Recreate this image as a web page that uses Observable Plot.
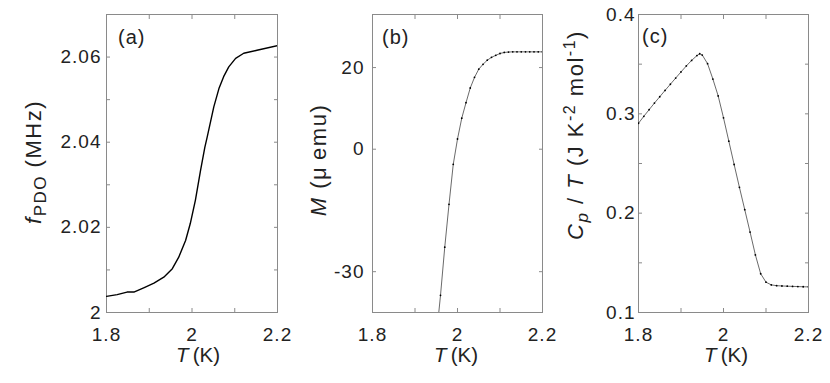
<!DOCTYPE html>
<html><head><meta charset="utf-8">
<script src="https://cdn.jsdelivr.net/npm/d3@7"></script>
<script src="https://cdn.jsdelivr.net/npm/@observablehq/plot@0.6"></script>
<style>
body{margin:0;background:#fff;}
#wrap{position:relative;width:830px;height:383px;overflow:hidden;font-family:"Liberation Sans",Arial,sans-serif;}
#wrap > svg{position:absolute;top:0;}
</style></head><body><div id="wrap"></div>
<script>
// ---- data ----
const xTicks = [1.8, 1.9, 2.0, 2.1, 2.2];
const xLabels = [1.8, 2.0, 2.2];

// (a) PDO frequency
const aT = [1.800, 1.825, 1.848, 1.864, 1.887, 1.911, 1.934, 1.954, 1.969, 1.985, 1.996, 2.008, 2.020, 2.030, 2.0355, 2.051, 2.063, 2.074, 2.086, 2.102, 2.121, 2.152, 2.200];
const aF = [2.0038, 2.0042, 2.0048, 2.0048, 2.0058, 2.0069, 2.0083, 2.0103, 2.0130, 2.0169, 2.0209, 2.0264, 2.0334, 2.0388, 2.0412, 2.0483, 2.0526, 2.0554, 2.0577, 2.0597, 2.0609, 2.0616, 2.0627];
const aYTicks = [2.00, 2.01, 2.02, 2.03, 2.04, 2.05, 2.06, 2.07];
const aYLabels = [2.00, 2.02, 2.04, 2.06];

// (b) magnetization
const bT = [1.955, 1.96, 1.97, 1.98, 1.99, 2.00, 2.01, 2.02, 2.03, 2.04, 2.05, 2.06, 2.07, 2.08, 2.09, 2.10, 2.11, 2.12, 2.13, 2.14, 2.15, 2.16, 2.17, 2.18, 2.19, 2.20];
const bM = [-41, -35.8, -24, -13.5, -3.7, 2.5, 7.6, 11.4, 15.0, 17.6, 19.6, 20.8, 21.8, 22.5, 23.0, 23.45, 23.7, 23.8, 23.85, 23.85, 23.85, 23.85, 23.85, 23.85, 23.85, 23.85];
const bYTicks = [-30, 0, 20];

// (c) specific heat
const cT = [1.8000, 1.8125, 1.8250, 1.8375, 1.8500, 1.8625, 1.8750, 1.8875, 1.9000, 1.9125, 1.9250, 1.9375, 1.9440, 1.9500, 1.9625, 1.9750, 1.9875, 2.0000, 2.0125, 2.0250, 2.0375, 2.0500, 2.0625, 2.0750, 2.0875, 2.1000, 2.1125, 2.1250, 2.1375, 2.1500, 2.1625, 2.1750, 2.1875, 2.2000];
const cC = [0.2905, 0.2975, 0.3042, 0.3108, 0.3172, 0.3236, 0.3298, 0.3360, 0.3422, 0.3482, 0.3538, 0.3586, 0.3605, 0.3592, 0.3505, 0.3350, 0.3180, 0.2960, 0.2725, 0.2490, 0.2260, 0.2035, 0.1810, 0.1580, 0.1390, 0.1305, 0.1278, 0.1270, 0.1267, 0.1265, 0.1263, 0.1261, 0.1259, 0.1258];
const cYTicks = [0.10, 0.15, 0.20, 0.25, 0.30, 0.35, 0.40];
const cYLabels = [0.1, 0.2, 0.3, 0.4];

// ---- drawing ----
const axisColor = "#8a8a8a";
const textColor = "#222";
const H = 383, MT = 14, MB = 71;
const FONT = "'Liberation Sans', Arial, sans-serif";
const fmt = d => String(+d.toFixed(3));

function panel({width, mL, mR, yDomain, yTicks, yLabels, yPad, data, lineWidth, lineColor, dots}) {
  const marks = [
    Plot.frame({stroke: axisColor}),
    Plot.axisX(xTicks, {anchor: "bottom", tickSize: -4, tickFormat: () => "", stroke: axisColor, label: null}),
    Plot.axisX(xTicks, {anchor: "top", tickSize: -4, tickFormat: () => "", stroke: axisColor, label: null}),
    Plot.axisX(xLabels, {anchor: "bottom", tickSize: 0, tickPadding: 15, tickFormat: fmt, fontSize: 19, label: null}),
    Plot.axisY(yTicks, {anchor: "left", tickSize: -4, tickFormat: () => "", stroke: axisColor, label: null}),
    Plot.axisY(yTicks, {anchor: "right", tickSize: -4, tickFormat: () => "", stroke: axisColor, label: null}),
    Plot.axisY(yLabels, {anchor: "left", tickSize: 0, tickPadding: yPad, tickFormat: fmt, fontSize: 19, label: null}),
    Plot.line(data, {x: "T", y: "v", stroke: lineColor, strokeWidth: lineWidth, clip: true, curve: "linear"})
  ];
  if (dots) marks.push(Plot.dot(data, {x: "T", y: "v", r: 0.9, fill: "#000", stroke: null, clip: true}));
  return Plot.plot({
    width, height: H,
    marginLeft: mL, marginRight: mR, marginTop: MT, marginBottom: MB,
    x: {domain: [1.8, 2.2], label: null},
    y: {domain: yDomain, label: null},
    style: {fontFamily: FONT, fontSize: "19px", letterSpacing: "1px", color: textColor, background: "transparent", overflow: "visible"},
    marks
  });
}

const wrap = document.getElementById("wrap");
const pA = panel({width: 280, mL: 106, mR: 3, yDomain: [2.0, 2.07], yTicks: aYTicks, yLabels: aYLabels, yPad: 5,
  data: aT.map((t, i) => ({T: t, v: aF[i]})), lineWidth: 1.4, lineColor: "#000", dots: false});
pA.style.left = "0px";
const pB = panel({width: 265, mL: 92, mR: 3, yDomain: [-40, 33], yTicks: bYTicks, yLabels: bYTicks, yPad: 8,
  data: bT.map((t, i) => ({T: t, v: bM[i]})), lineWidth: 0.8, lineColor: "#444", dots: true});
pB.style.left = "280px";
const pC = panel({width: 280, mL: 88, mR: 22, yDomain: [0.1, 0.4], yTicks: cYTicks, yLabels: cYLabels, yPad: 3,
  data: cT.map((t, i) => ({T: t, v: cC[i]})), lineWidth: 0.8, lineColor: "#444", dots: true});
pC.style.left = "550px";
wrap.append(pA, pB, pC);

// ---- rich-text labels overlay ----
const ov = d3.select(wrap).append("svg")
  .attr("width", 830).attr("height", H)
  .style("left", "0px").style("pointer-events", "none")
  .attr("font-family", FONT)
  .attr("fill", textColor);

// panel letters
[["(a)", 118, 44], ["(b)", 382, 44], ["(c)", 642, 43]].forEach(([s, x, y]) =>
  ov.append("text").attr("x", x).attr("y", y).attr("font-size", 20).attr("letter-spacing", 1).text(s));

// x labels
[198, 456, 726].forEach(cx => {
  const t = ov.append("text").attr("x", cx).attr("y", 362).attr("text-anchor", "middle").attr("font-size", 20.5);
  t.append("tspan").attr("font-style", "italic").text("T");
  t.append("tspan").text("\u2009(K)");
});

// y label (a)
{
  const t = ov.append("text").attr("transform", "translate(41,162) rotate(-90)").attr("text-anchor", "middle")
    .attr("font-size", 22).attr("letter-spacing", 1.5);
  t.append("tspan").attr("font-style", "italic").text("f");
  t.append("tspan").attr("font-size", 17).attr("dy", 5).text("PDO");
  t.append("tspan").attr("dy", -5).text(" (MHz)");
}
// y label (b)
{
  const t = ov.append("text").attr("transform", "translate(326,160) rotate(-90)").attr("text-anchor", "middle")
    .attr("font-size", 22).attr("letter-spacing", 1.5);
  t.append("tspan").attr("font-style", "italic").text("M");
  t.append("tspan").text(" (\u03bc\u2009emu)");
}
// y label (c)
{
  const t = ov.append("text").attr("transform", "translate(583,135) rotate(-90)").attr("text-anchor", "middle")
    .attr("font-size", 22).attr("letter-spacing", 1.5);
  t.append("tspan").attr("font-style", "italic").text("C");
  t.append("tspan").attr("font-style", "italic").attr("font-size", 17).attr("dy", 5).text("p");
  t.append("tspan").attr("dy", -5).text(" / ");
  t.append("tspan").attr("font-style", "italic").text("T");
  t.append("tspan").text(" (J K");
  t.append("tspan").attr("font-size", 16).attr("dy", -8).text("-2");
  t.append("tspan").attr("dy", 8).text(" mol");
  t.append("tspan").attr("font-size", 16).attr("dy", -8).text("-1");
  t.append("tspan").attr("dy", 8).text(")");
}
</script></body></html>
